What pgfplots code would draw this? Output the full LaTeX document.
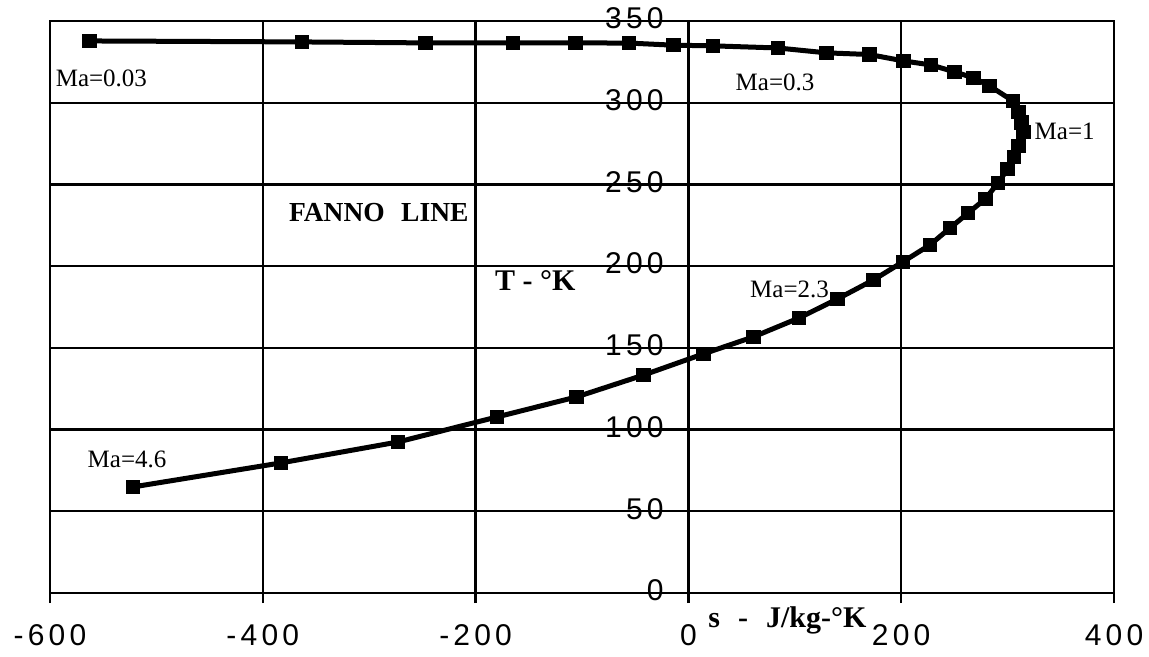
\documentclass[border=0pt]{standalone}
\usepackage{fontspec}
\setmainfont{Liberation Serif}
\newfontfamily\tickfont{Liberation Sans}[LetterSpace=14]
\usepackage{pgfplots}
\pgfplotsset{compat=1.18}
\usetikzlibrary{calc}

\begin{document}
\begin{tikzpicture}
\begin{axis}[
  scale only axis,
  width=425.6pt, height=228.8pt,
  xmin=-600, xmax=400, ymin=0, ymax=350,
  xtick={-600,-400,-200,0,200,400},
  xticklabels={-600,-400,-200,0,200,400},
  ytick={0,50,100,150,200,250,300,350},
  yticklabels={0,50,100,150,200,250,300,350},
  grid=major,
  grid style={black, line width=0.9pt},
  axis line style={line width=1pt},
  xtick pos=bottom, tick align=outside,
  major tick length=4pt,
  xtick style={black, line width=1pt},
  ytick style={draw=none},
  xticklabel style={font=\tickfont\fontsize{12}{14}\selectfont, yshift=-5pt},
  yticklabel style={font=\tickfont\fontsize{12}{14}\selectfont, anchor=east, xshift=253pt, yshift=1pt},
  clip=false,
]
% Fanno line, subsonic branch from Ma=0.03, then supersonic branch to Ma=4.6
\addplot[black, line width=2pt, mark=square*, mark size=1.9pt] coordinates {
  (-563,337.8) (-363,337.2) (-247,336.6) (-165,336.6) (-106,336.6)
  (-56,336.5) (-14,335.2) (23,334.8) (84,333.5) (130,330.5)
  (170,329.5) (202,325.6) (228,323.1) (250,318.9) (268,315.2)
  (283,310.3) (305,301.1) (310,294.4) (313,288.0) (315,282.1)
  (310,273.6) (306,266.8) (300,259.5) (291,250.9) (279,241.1)
  (263,232.6) (246,223.4) (227,213.0) (201.5,202.6) (174,191.6)
  (140,179.9) (104,168.3) (61,156.7) (14,146.3) (-42,133.4)
  (-105,120.0) (-180,107.7) (-273,92.4) (-383,79.6) (-522,64.9)
};
\node[anchor=west, inner sep=0pt] at (axis cs:-595,315) {Ma=0.03};
\node[anchor=west, inner sep=0pt] at (axis cs:44,312.7) {Ma=0.3};
\node[anchor=west, inner sep=0pt] at (axis cs:325,282.7) {Ma=1};
\node[anchor=west, inner sep=0pt] at (axis cs:57.6,186) {Ma=2.3};
\node[anchor=west, inner sep=0pt] at (axis cs:-565,82) {Ma=4.6};
\node[inner sep=0pt, font=\fontsize{11}{13}\selectfont\bfseries] at (axis cs:-291,232.6) {FANNO\hspace{0.6em}LINE};
\node[inner sep=0pt, font=\fontsize{12}{14}\selectfont\bfseries] at (axis cs:-144,191.5) {T\hspace{0.25em}-\hspace{0.25em}°K};
\node[inner sep=0pt, font=\fontsize{12}{14}\selectfont\bfseries] at (axis cs:93,-17) {s\hspace{0.6em}-\hspace{0.6em}J/kg-°K};
\coordinate (bl) at (rel axis cs:0,0);
\coordinate (tr) at (rel axis cs:1,1);
\end{axis}
\pgfresetboundingbox
\path[use as bounding box] ($(bl)+(-20pt,-25.2pt)$) rectangle ($(tr)+(14pt,8.4pt)$);
\end{tikzpicture}
\end{document}
